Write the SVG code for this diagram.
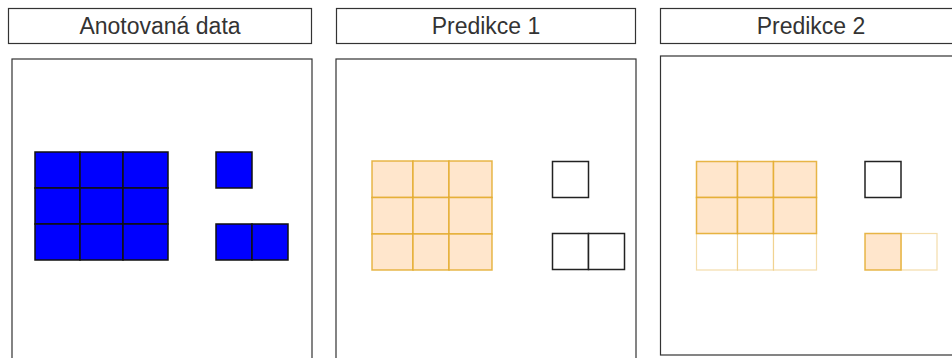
<svg xmlns="http://www.w3.org/2000/svg" width="952" height="358" viewBox="0 0 952 358">
<style>
.frame{fill:#fff;stroke:#333;stroke-width:1.2}
.title{font-family:"Liberation Sans",Arial,sans-serif;font-size:23px;fill:#333;text-anchor:middle}
.blue{fill:#0000ff;stroke:#111;stroke-width:1.5}
.org{fill:#ffe6cc;stroke:#e3aa2a;stroke-width:1.5;stroke-opacity:0.85}
.orgE{fill:#fff;stroke:#e3aa2a;stroke-width:1.2;stroke-opacity:0.4}
.emp{fill:#fff;stroke:#222;stroke-width:1.5}
</style>
<rect width="952" height="358" fill="#fff"/>
<g id="title1"><rect class="frame" x="8.5" y="8.5" width="303" height="35"/><text class="title" x="160" y="34">Anotovaná data</text></g>
<g id="title2"><rect class="frame" x="336.5" y="8.5" width="299" height="35"/><text class="title" x="486" y="34">Predikce 1</text></g>
<g id="title3"><rect class="frame" x="660.5" y="8.5" width="300" height="35"/><text class="title" x="811" y="34">Predikce 2</text></g>
<g id="panel1"><rect class="frame" x="12" y="59" width="300" height="310"/></g>
<g id="panel2"><rect class="frame" x="336" y="59" width="300" height="310"/></g>
<g id="panel3"><rect class="frame" x="660.5" y="56" width="300" height="299"/></g>
<g id="annot-grid">
<rect class="blue" x="35" y="152" width="45" height="36"/><rect class="blue" x="80" y="152" width="43" height="36"/><rect class="blue" x="123" y="152" width="45" height="36"/>
<rect class="blue" x="35" y="188" width="45" height="36"/><rect class="blue" x="80" y="188" width="43" height="36"/><rect class="blue" x="123" y="188" width="45" height="36"/>
<rect class="blue" x="35" y="224" width="45" height="36"/><rect class="blue" x="80" y="224" width="43" height="36"/><rect class="blue" x="123" y="224" width="45" height="36"/>
</g>
<g id="annot-single"><rect class="blue" x="216" y="152" width="36" height="36"/></g>
<g id="annot-pair"><rect class="blue" x="216" y="224" width="36" height="36"/><rect class="blue" x="252" y="224" width="36" height="36"/></g>
<g id="pred1-grid">
<rect class="org" x="372" y="161" width="41" height="36.5"/><rect class="org" x="413" y="161" width="36" height="36.5"/><rect class="org" x="449" y="161" width="43" height="36.5"/>
<rect class="org" x="372" y="197.5" width="41" height="36.5"/><rect class="org" x="413" y="197.5" width="36" height="36.5"/><rect class="org" x="449" y="197.5" width="43" height="36.5"/>
<rect class="org" x="372" y="234" width="41" height="36"/><rect class="org" x="413" y="234" width="36" height="36"/><rect class="org" x="449" y="234" width="43" height="36"/>
</g>
<g id="pred1-single"><rect class="emp" x="552.5" y="161.5" width="36" height="36"/></g>
<g id="pred1-pair"><rect class="emp" x="552.5" y="233.5" width="36" height="36"/><rect class="emp" x="588.5" y="233.5" width="36" height="36"/></g>
<g id="pred2-grid">
<rect class="orgE" x="696.5" y="233.5" width="41" height="36.5"/><rect class="orgE" x="737.5" y="233.5" width="36" height="36.5"/><rect class="orgE" x="773.5" y="233.5" width="43" height="36.5"/>
<rect class="org" x="696.5" y="161.5" width="41" height="36"/><rect class="org" x="737.5" y="161.5" width="36" height="36"/><rect class="org" x="773.5" y="161.5" width="43" height="36"/>
<rect class="org" x="696.5" y="197.5" width="41" height="36"/><rect class="org" x="737.5" y="197.5" width="36" height="36"/><rect class="org" x="773.5" y="197.5" width="43" height="36"/>
</g>
<g id="pred2-single"><rect class="emp" x="865" y="161.5" width="36" height="36"/></g>
<g id="pred2-pair"><rect class="orgE" x="901" y="233.5" width="36" height="36.5"/><rect class="org" x="865" y="233.5" width="36" height="36.5"/></g>
<g id="connectors"></g>
</svg>
